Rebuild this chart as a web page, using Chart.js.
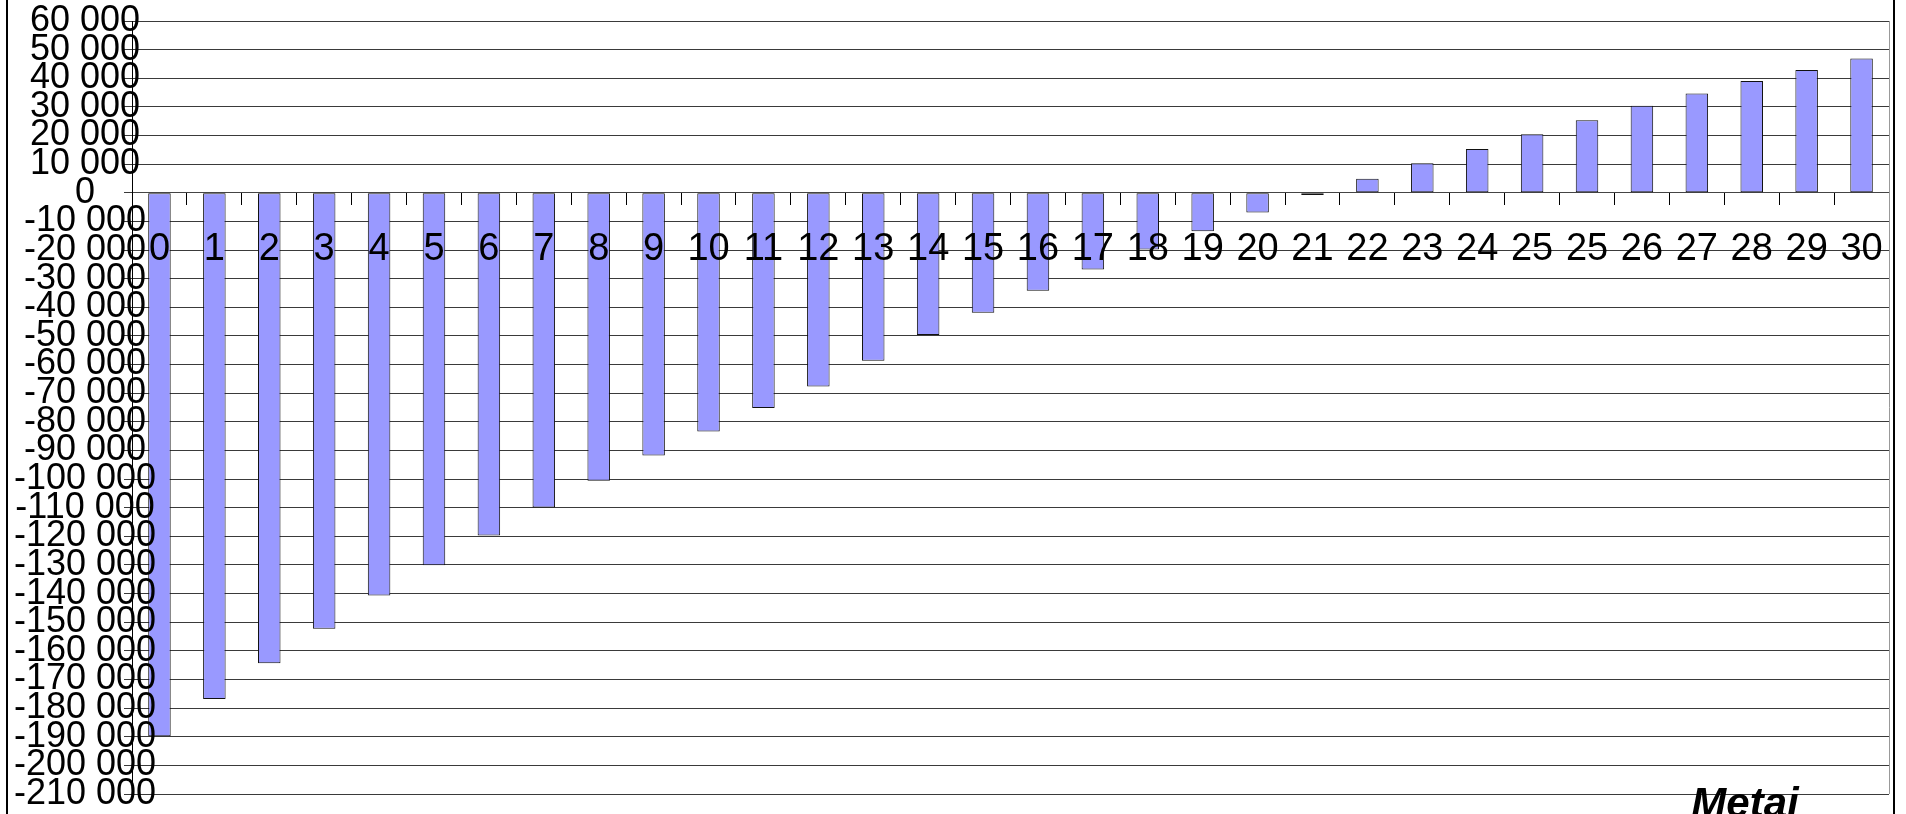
<!DOCTYPE html>
<html>
<head>
<meta charset="utf-8">
<script src="https://cdn.jsdelivr.net/npm/chart.js@4/dist/chart.umd.min.js"></script>
<style>
html,body{margin:0;padding:0;background:#fff;overflow:hidden}
#wrap{width:1906px;height:814px;position:relative}
</style>
</head>
<body>
<div id="wrap"><canvas id="c" width="1906" height="814"></canvas></div>
<script>
const categories = ['0','1','2','3','4','5','6','7','8','9','10','11','12','13','14','15','16','17','18','19','20','21','22','23','24','25','25','26','27','28','29','30'];
const values = [-189800, -176800, -164300, -152300, -140700, -130100, -119700, -109900, -100600, -91800, -83400, -75200, -67700, -58700, -49700, -41900, -34200, -26800, -19800, -13400, -6900, -800, 4900, 10300, 15300, 20400, 25300, 30400, 34700, 39000, 42900, 46900];
const yMin = -210000;
const yMax = 60000;
const yStep = 10000;
const axisTitle = 'Metai';

const FONT = '"Liberation Sans", Arial, sans-serif';

function fmt(v) {
  const neg = v < 0;
  let s = String(Math.abs(Math.round(v)));
  s = s.replace(/\B(?=(\d{3})+(?!\d))/g, ' ');
  return (neg ? '-' : '') + s;
}

const decor = {
  id: 'decor',
  afterDraw(chart) {
    const ctx = chart.ctx;
    const a = chart.chartArea;
    ctx.save();
    ctx.strokeStyle = '#999';
    ctx.lineWidth = 1;
    ctx.beginPath();
    const rx = Math.round(a.right) + 0.5;
    ctx.moveTo(rx, a.top);
    ctx.lineTo(rx, a.bottom);
    ctx.stroke();
    ctx.strokeStyle = '#000';
    ctx.lineWidth = 2;
    ctx.strokeRect(7, -10, 1887, 840);
    ctx.fillStyle = '#000';
    ctx.font = 'italic bold 42px ' + FONT;
    ctx.textAlign = 'center';
    ctx.textBaseline = 'alphabetic';
    ctx.fillText(axisTitle, 1745, 817);
    ctx.restore();
  }
};

new Chart(document.getElementById('c'), {
  type: 'bar',
  data: {
    labels: categories,
    datasets: [{
      data: values,
      xAxisID: 'x',
      yAxisID: 'y',
      backgroundColor: '#9999ff',
      borderColor: '#111',
      borderWidth: 1,
      borderSkipped: false,
      categoryPercentage: 1,
      barPercentage: 0.41
    }]
  },
  options: {
    responsive: false,
    animation: false,
    devicePixelRatio: 1,
    layout: { padding: { top: 21, right: 17, bottom: 20, left: 0 } },
    plugins: { legend: { display: false }, tooltip: { enabled: false }, title: { display: false } },
    scales: {
      x: {
        type: 'category',
        position: { y: 0 },
        offset: true,
        grid: { offset: true, drawOnChartArea: false, drawTicks: true, tickLength: 12, color: '#000', lineWidth: 1, z: -1 },
        border: { display: true, color: '#444', width: 1, z: 0 },
        ticks: { z: 1, font: { family: FONT, size: 38 }, color: '#000', padding: 22, maxRotation: 0, minRotation: 0, autoSkip: false }
      },
      y: {
        position: 'left',
        min: yMin,
        max: yMax,
        ticks: {
          z: 1,
          stepSize: yStep,
          autoSkip: false,
          callback: (v) => fmt(v),
          font: { family: FONT, size: 36, lineHeight: 1 },
          color: '#000',
          mirror: true,
          crossAlign: 'center',
          padding: -118
        },
        grid: { color: '#3a3a3a', lineWidth: 1, tickLength: 8, drawTicks: true, z: -1 },
        border: { display: true, color: '#000', width: 1 },
        afterFit(s) { s.width = 132; }
      }
    }
  },
  plugins: [decor]
});
</script>
</body>
</html>
